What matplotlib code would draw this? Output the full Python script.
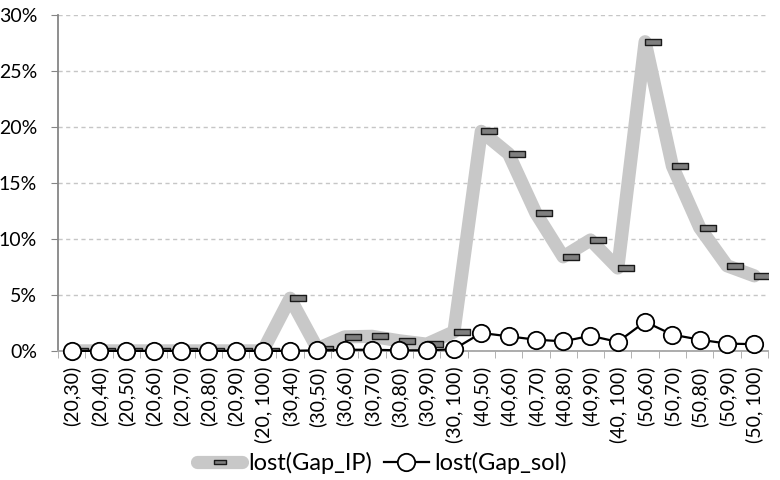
import matplotlib
matplotlib.use("Agg")
import matplotlib.pyplot as plt
import matplotlib.transforms as mtrans
from matplotlib.path import Path
from matplotlib.ticker import FixedLocator, PercentFormatter
import numpy as np

plt.rcParams['font.family'] = ['Lato', 'DejaVu Sans']

categories = ["(20,30)", "(20,40)", "(20,50)", "(20,60)", "(20,70)", "(20,80)", "(20,90)", "(20, 100)",
              "(30,40)", "(30,50)", "(30,60)", "(30,70)", "(30,80)", "(30,90)", "(30, 100)",
              "(40,50)", "(40,60)", "(40,70)", "(40,80)", "(40,90)", "(40, 100)",
              "(50,60)", "(50,70)", "(50,80)", "(50,90)", "(50, 100)"]
gap_ip = [0.0, 0.0, 0.0, 0.0, 0.0, 0.0, 0.0, 0.0,
          4.7, 0.2, 1.25, 1.3, 0.9, 0.6, 1.7,
          19.6, 17.6, 12.3, 8.4, 9.9, 7.4,
          27.6, 16.5, 11.0, 7.6, 6.7]
gap_sol = [0.0, 0.0, 0.0, 0.0, 0.0, 0.0, 0.0, 0.0,
           0.0, 0.05, 0.1, 0.1, 0.05, 0.05, 0.15,
           1.6, 1.3, 1.0, 0.85, 1.35, 0.8,
           2.6, 1.45, 1.0, 0.65, 0.6]
y_ticks = [0, 5, 10, 15, 20, 25, 30]

fig = plt.figure(figsize=(7.8, 4.8), dpi=100)
ax = fig.add_axes([0.0744, 0.269, 0.9102, 0.700])

x = np.arange(len(categories))

dash = Path([(-1, -0.42), (1, -0.42), (1, 0.42), (-1, 0.42), (-1, -0.42)],
            [Path.MOVETO, Path.LINETO, Path.LINETO, Path.LINETO, Path.CLOSEPOLY])

ax.plot(x, gap_ip, color='#c8c8c8', lw=9.5, solid_joinstyle='round', solid_capstyle='round', zorder=2)
off = mtrans.ScaledTranslation(8 / 100, 0, fig.dpi_scale_trans)
ax.plot(x, gap_ip, ls='none', marker=dash, ms=11.5, mfc='#7f7f7f', mec='#1a1a1a', mew=1.0,
        transform=ax.transData + off, zorder=3)
ax.plot(x, gap_sol, color='black', lw=1.6, marker='o', ms=12.5, mfc='white', mec='black',
        mew=1.3, zorder=4, clip_on=False)

# legend proxies
h1, = ax.plot([], [], color='#c8c8c8', lw=9.5, solid_capstyle='round', marker=dash, ms=8,
              mfc='#7f7f7f', mec='#1a1a1a', mew=1.0)
h2, = ax.plot([], [], color='black', lw=1.6, marker='o', ms=12.5, mfc='white', mec='black', mew=1.3)
leg = fig.legend([h1, h2], ["lost(Gap_IP)", "lost(Gap_sol)"], loc='lower center',
                 bbox_to_anchor=(0.49, -0.032), ncol=2, frameon=False, fontsize=17,
                 handlelength=1.9, handletextpad=0.25, columnspacing=0.5)

ax.set_xlim(-0.5, len(categories) - 0.5)
ax.set_ylim(0, 30)
ax.set_yticks(y_ticks)
ax.yaxis.set_major_formatter(PercentFormatter(decimals=0))
ax.set_xticks(x)
ax.set_xticklabels(categories, rotation=90, fontsize=14, va='top')
ax.xaxis.set_minor_locator(FixedLocator(np.arange(-0.5, len(categories), 1.0)))
ax.tick_params(axis='x', which='major', length=0, pad=11)
ax.tick_params(axis='x', which='minor', length=5, color='#a6a6a6', direction='out')
ax.tick_params(axis='y', length=5, color='#868686', labelsize=14, pad=10)

ax.grid(axis='y', ls=(0, (3, 2.5)), color='#c6c6c6', lw=1)
ax.set_axisbelow(True)
for s in ['top', 'right']:
    ax.spines[s].set_visible(False)
ax.spines['left'].set_color('#868686')
ax.spines['left'].set_linewidth(1.3)
ax.spines['bottom'].set_color('#a6a6a6')
ax.spines['bottom'].set_linewidth(1.3)

fig.savefig('out.png', dpi=100)
